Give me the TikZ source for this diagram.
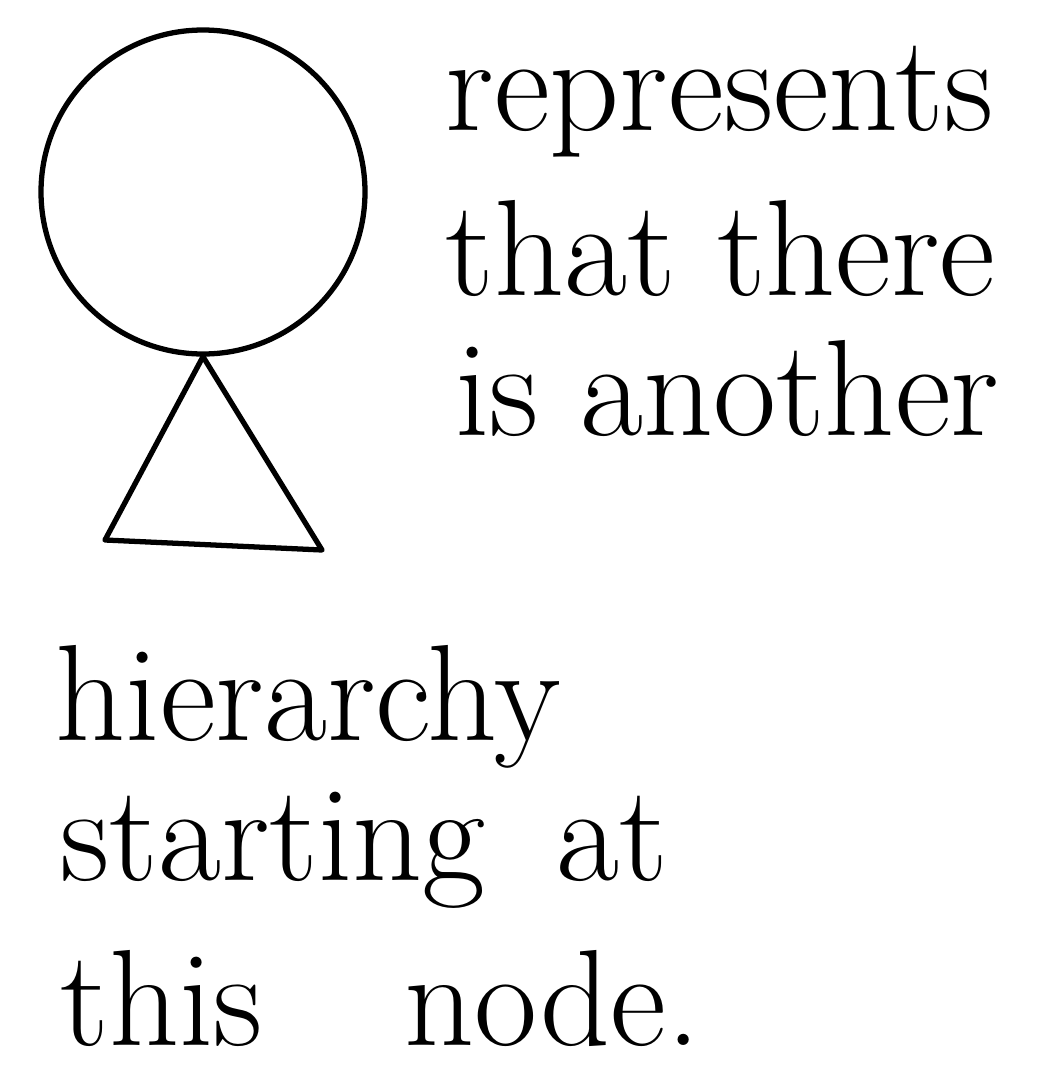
\documentclass[tikz,border=0pt]{standalone}
\usepackage{tikz}
\usetikzlibrary{positioning}
\tikzset{
  hand/.style={font=\fontsize{39}{44}\selectfont, inner sep=0pt, anchor=base west},
  ring/.style={draw, circle, line width=1.5pt, minimum size=3.24cm, inner sep=0pt},
  tri/.style={line width=1.5pt, line join=round},
}
\begin{document}
\begin{tikzpicture}[x=1cm,y=1cm]
\useasboundingbox (0,0) rectangle (10.59,-10.88);
% node and its subtree
\node[ring] (root) at (2.03,-1.92) {};
\coordinate (bl) at (1.05,-5.40);
\coordinate (br) at (3.22,-5.50);
\draw[tri] (root.south) -- (bl) -- (br) -- cycle;
% note
\node[hand] (l1) at (4.45,-1.30) {represents};
\node[hand] (l2) at (4.45,-2.95) {that there};
\node[hand] (l3) at (4.55,-4.35) {is another};
\node[hand] (l4) at (0.55,-7.40) {hierarchy};
\node[hand] (l5) at (0.60,-8.80) {starting\hspace{0.3cm} at};
\node[hand] (l6) at (0.60,-10.45) {this\hspace{1.0cm} node.};
\end{tikzpicture}
\end{document}
